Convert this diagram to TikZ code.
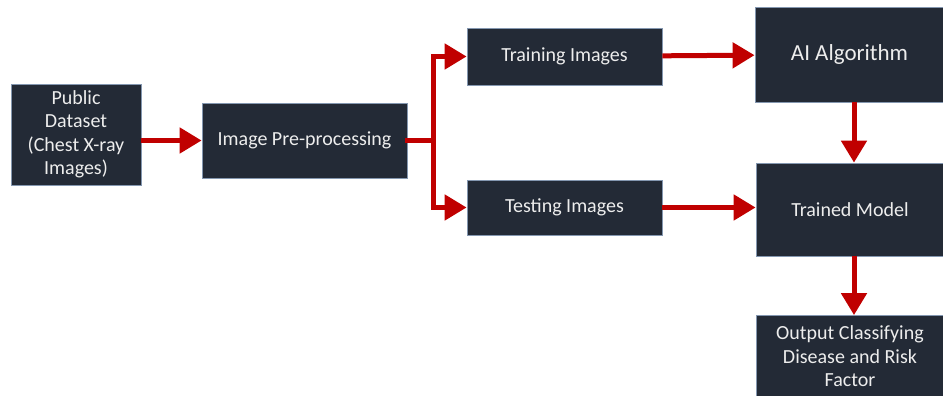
\documentclass[tikz,border=0pt]{standalone}
\usepackage{fontspec}
\setmainfont{Carlito}
\usetikzlibrary{arrows.meta,calc}
\definecolor{boxfill}{HTML}{232A36}
\definecolor{boxline}{HTML}{8497B0}
\definecolor{arrred}{HTML}{C00000}
\definecolor{txt}{HTML}{EDEDED}
\tikzset{
  x=1pt,y=-1pt,
  blk/.style={draw=boxline,line width=0.8pt,fill=boxfill,text=txt,align=center,inner sep=2pt,font=\fontsize{20}{23.5}\selectfont},
  flow/.style={draw=arrred,line width=5pt,-{Triangle[length=22pt,width=25pt]}},
  flowline/.style={draw=arrred,line width=5pt},
}
\begin{document}
\begin{tikzpicture}
\useasboundingbox (0,0) rectangle (943,396);
\node[blk,minimum width=130pt,minimum height=101pt] (pub) at (76,134.5) {Public\\Dataset\\(Chest X-ray\\Images)};
\node[blk,minimum width=205pt,minimum height=75pt] (pre) at (304.5,140.5) {Image Pre-processing};
\node[blk,minimum width=195pt,minimum height=57pt] (train) at (564.5,56.5) {Training Images};
\node[blk,minimum width=195pt,minimum height=55pt] (test) at (564.5,207.5) {Testing Images};
\node[blk,minimum width=189pt,minimum height=95pt,font=\fontsize{23}{27}\selectfont] (ai) at (849.5,54.5) {AI Algorithm};
\node[blk,minimum width=188pt,minimum height=93pt] (model) at (850,209.5) {Trained Model};
\node[blk,minimum width=188pt,minimum height=82pt] (out) at (850,356.5) {Output Classifying\\Disease and Risk\\Factor};
\coordinate (split) at (433,140.5);
\draw[flow] (pub.east |- pre) -- (pre.west);
\draw[flowline,line cap=rect] (pre.east) -- (split);
\draw[flow,line cap=rect] (split) |- (train.west);
\draw[flow,line cap=rect] (split) |- (test.west);
\draw[flow] (train) -- (ai);
\draw[flow] (test.east) -- (test.east -| model.west);
\draw[flow] (ai.south -| 854,0) -- (model.north -| 854,0);
\draw[flow] (model.south -| 854,0) -- (out.north -| 854,0);
\end{tikzpicture}
\end{document}
